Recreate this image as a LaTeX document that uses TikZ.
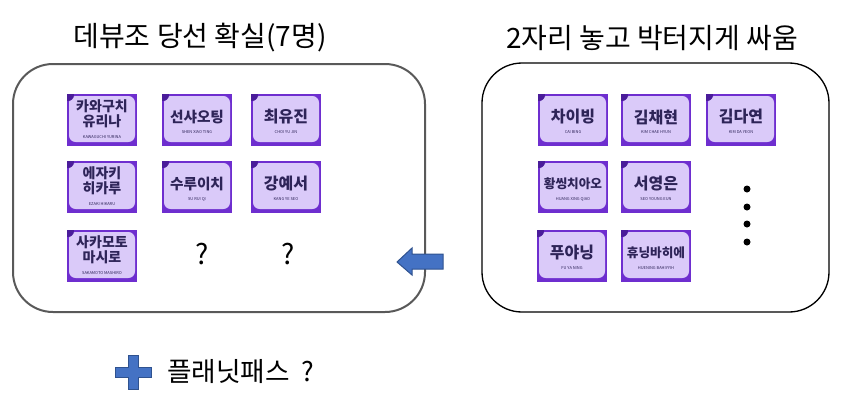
\documentclass[tikz,border=0pt]{standalone}
\usepackage{fontspec}
\setmainfont{Noto Sans CJK KR}
\usepackage{xcolor}
\definecolor{tilepurple}{HTML}{6E2ECF}
\definecolor{tilelav}{HTML}{DACAF9}
\definecolor{tiledark}{HTML}{4A1C9A}
\definecolor{tileink}{HTML}{2E2458}
\definecolor{boxgray}{HTML}{595959}
\definecolor{arrowblue}{HTML}{4472C4}
\definecolor{arrowedge}{HTML}{2F528F}
\tikzset{
  groupbox/.style={rounded corners=30pt},
  title/.style={font=\fontsize{21}{24}\selectfont, inner sep=0pt},
  tilename/.style={text=tileink, font=\bfseries\fontsize{10.5}{9.5}\selectfont, align=center, inner sep=0pt},
  tileroman/.style={text=tileink, font=\fontsize{3}{3}\selectfont, inner sep=0pt},
}
\newcommand{\namebig}{\fontsize{12}{12}\selectfont}
\newcommand{\namemid}{\fontsize{11}{11}\selectfont}
\newcommand{\namesmall}{\fontsize{9.5}{9.5}\selectfont}
% one photo card: centre x, centre y, name, korean, roman, name y, roman y
\newcommand{\tilecard}[7]{%
  \begin{scope}[shift={(#1,#2)}]
    \fill[tilepurple] (-35,-26) rectangle (35,26);
    \fill[tilelav, rounded corners=5pt] (-33,-24) rectangle (33,22);
    \begin{scope}
      \clip (-35,-26) rectangle (35,26);
      \fill[tiledark] (-34,-25) circle (6);
    \end{scope}
    \node[tilename] (#3) at (0,#6) {#4};
    \node[tileroman] (#3-rom) at (0,#7) {#5};
  \end{scope}}

\begin{document}
\begin{tikzpicture}[x=0.75pt,y=-0.75pt]
\useasboundingbox (0,0) rectangle (850,401);

% Titles
\node[title] (lefttitle) at (200,38) {데뷰조 당선 확실(7명)};
\node[title] (righttitle) at (652,38) {2자리 놓고 박터지게 싸움};

% Group boxes
\draw[groupbox, boxgray, line width=1.5pt] (13,64) rectangle (425,312);
\draw[groupbox, black, line width=1pt] (482,63) rectangle (829,312);

% Left group
\tilecard{102}{120}{kawaguchi}{카와구치\\유리나}{KAWAGUCHI YURINA}{-6}{17}
\tilecard{197}{120}{shen}{\namemid 선샤오팅}{SHEN XIAO TING}{-3}{12}
\tilecard{286}{120}{choi}{\namebig 최유진}{CHOI YU JIN}{-3}{12}
\tilecard{102}{187}{ezaki}{에자키\\히카루}{EZAKI HIKARU}{-6}{17}
\tilecard{197}{187}{su}{\namemid 수루이치}{SU RUI QI}{-3}{12}
\tilecard{286}{187}{kang}{\namebig 강예서}{KANG YE SEO}{-3}{12}
\tilecard{102}{256}{sakamoto}{사카모토\\마시로}{SAKAMOTO MASHIRO}{-6}{17}
\node[title] (open1) at (202,254) {?};
\node[title] (open2) at (288,254) {?};

% Right group
\tilecard{573}{120}{cai}{\namebig 차이빙}{CAI BING}{-3}{12}
\tilecard{656}{120}{kimch}{\namebig 김채현}{KIM CHAE HYUN}{-3}{12}
\tilecard{741}{120}{kimda}{\namebig 김다연}{KIM DA YEON}{-3}{12}
\tilecard{573}{187}{huang}{\namesmall 황씽치아오}{HUANG XING QIAO}{-3}{12}
\tilecard{656}{187}{seo}{\namebig 서영은}{SEO YOUNG EUN}{-3}{12}
\tilecard{572}{256}{fu}{\namebig 푸야닝}{FU YA NING}{-3}{12}
\tilecard{656}{256}{huening}{\namesmall 휴닝바히에}{HUENING BAHIYYIH}{-3}{12}
\foreach \y in {189,207,224,242} {
    \fill (747,\y) circle (3.5);
}

% Arrow between groups
\draw[fill=arrowblue, draw=arrowedge, line width=0.75pt]
  (397,262) -- (412,248) -- (412,254) -- (443,254) -- (443,269)
  -- (412,269) -- (412,275) -- cycle;

% Planet pass
\draw[fill=arrowblue, draw=arrowedge, line width=0.75pt]
  (128,355) -- (138,355) -- (138,367) -- (151,367) -- (151,377) -- (138,377)
  -- (138,389) -- (128,389) -- (128,377) -- (115,377) -- (115,367) -- (128,367) -- cycle;
\node[title, anchor=west, font=\fontsize{20}{24}\selectfont] (planet) at (167,372) {플래닛패스 ~?};
\end{tikzpicture}
\end{document}
